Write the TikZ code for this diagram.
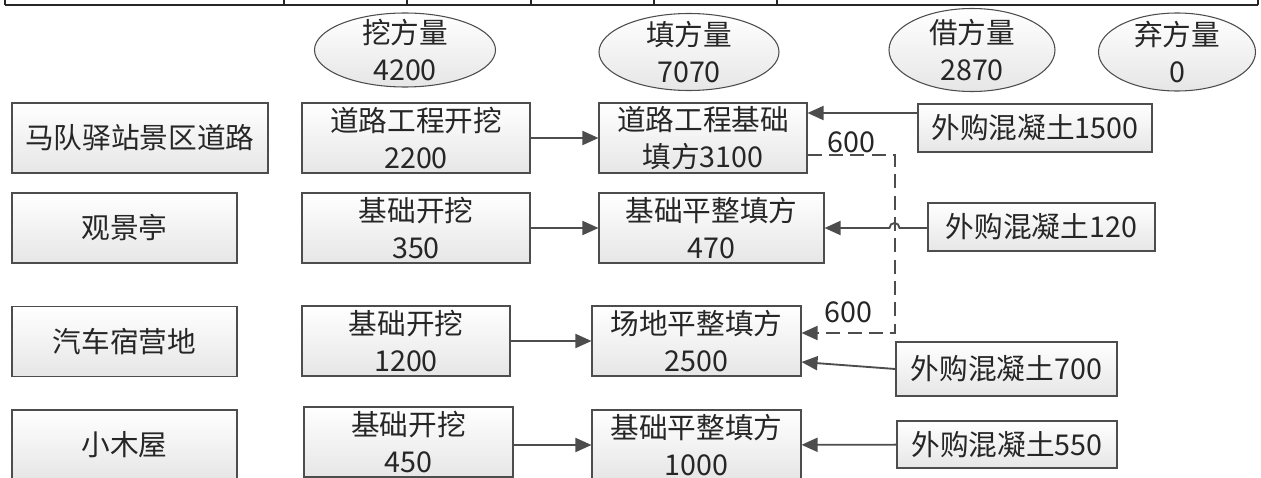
\documentclass[tikz,border=0pt]{standalone}
\usepackage{fontspec}
\newfontfamily\cjk{Noto Sans CJK SC}
\usepackage{tikz}
\usetikzlibrary{shapes.geometric, arrows.meta}
\definecolor{linegray}{HTML}{4D4D4D}
\definecolor{boxgray}{HTML}{E6E6E6}
\tikzset{
    >={Triangle[length=12pt, width=10.5pt]}, % filled arrow heads
    every node/.style={font=\cjk\fontsize{21.5pt}{28pt}\selectfont, text=black!85},
    box/.style={draw=linegray, line width=0.8pt, top color=white, bottom color=boxgray, inner sep=0pt, align=center, minimum height=52.5pt},
    sumell/.style={ellipse, draw=linegray, line width=0.8pt, top color=white, bottom color=boxgray, inner sep=0pt}, % totals on top
    flow/.style={->, draw=linegray, line width=1.4pt},
    moved/.style={flow, dash pattern=on 10.5pt off 5.5pt}, % earth moved between sites
    qty/.style={inner sep=0pt},
}

\begin{document}
\begin{tikzpicture}[x=0.75pt, y=-0.75pt]
        \useasboundingbox (0,0) rectangle (1261,478);

        % table rule at the top
        \draw[line width=1.5pt, black!85] (5,5) -- (1258,5);
        \foreach \x in {5,284,407,531,654,777,1258}
            \draw[line width=1pt, black!85] (\x,0) -- (\x,5);

        % totals
        \node[sumell, minimum width=135.75pt, minimum height=55.5pt, label={[align=center]center:挖方量\\4200}] (cut) at (405,50) {};
        \node[sumell, minimum width=135pt, minimum height=57.75pt, label={[align=center]center:填方量\\7070}] (fillsum) at (689,52) {};
        \node[sumell, minimum width=124.5pt, minimum height=62.25pt, label={[align=center]center:借方量\\2870}] (borrow) at (972,50) {};
        \node[sumell, minimum width=117.75pt, minimum height=58.5pt, label={[align=center]center:弃方量\\0}] (waste) at (1177,52) {};

        % sites
        \node[box, minimum width=192pt] (site1) at (140,138) {马队驿站景区道路};
        \node[box, minimum width=168.75pt] (site2) at (124.5,228) {观景亭};
        \node[box, minimum width=168.75pt] (site3) at (124.5,341.5) {汽车宿营地};
        \node[box, minimum width=168.75pt] (site4) at (124.5,445) {小木屋};

        % excavation
        \node[box, minimum width=171pt] (dig1) at (416,138) {道路工程开挖\\2200};
        \node[box, minimum width=171pt] (dig2) at (416,228) {基础开挖\\350};
        \node[box, minimum width=156pt] (dig3) at (406,341) {基础开挖\\1200};
        \node[box, minimum width=156.75pt] (dig4) at (408.5,442) {基础开挖\\450};

        % filling
        \node[box, minimum width=156pt] (fill1) at (703,138) {道路工程基础\\填方3100};
        \node[box, minimum width=168.75pt] (fill2) at (711.5,228) {基础平整填方\\470};
        \node[box, minimum width=156.75pt] (fill3) at (696.5,341) {场地平整填方\\2500};
        \node[box, minimum width=156.75pt] (fill4) at (696.5,445) {基础平整填方\\1000};

        % bought in
        \node[box, minimum width=175.5pt, minimum height=36pt] (buy1) at (1035,128) {外购混凝土1500};
        \node[box, minimum width=170.25pt, minimum height=36pt] (buy2) at (1041.5,227) {外购混凝土120};
        \node[box, minimum width=165.75pt, minimum height=40.5pt] (buy3) at (1006.5,369) {外购混凝土700};
        \node[box, minimum width=165pt, minimum height=35.25pt] (buy4) at (1007,444.5) {外购混凝土550};

        \draw[flow] (dig1) -- (fill1);
        \draw[flow] (dig2) -- (fill2);
        \draw[flow] (dig3) -- (fill3);
        \draw[flow] (dig4.east |- fill4) -- (fill4);

        \draw[flow] (buy1.west |- 0,113) -- (fill1.east |- 0,113);
        \draw[flow] (buy2.west |- fill2) -- ++(-28,0) arc[start angle=0, end angle=180, radius=3.75pt] -- (fill2.east);
        \draw[flow] (buy3.west) -- (fill3.east |- 0,362);
        \draw[flow] (buy4) -- (fill4);

        \coordinate (turn) at (895,155);
        \draw[moved] (fill1.east |- turn) -- node[qty, above=1pt] {600} (turn)
                -- (turn |- 0,333) -- node[qty, above=7pt] {600} (fill3.east |- 0,333);
\end{tikzpicture}
\end{document}
